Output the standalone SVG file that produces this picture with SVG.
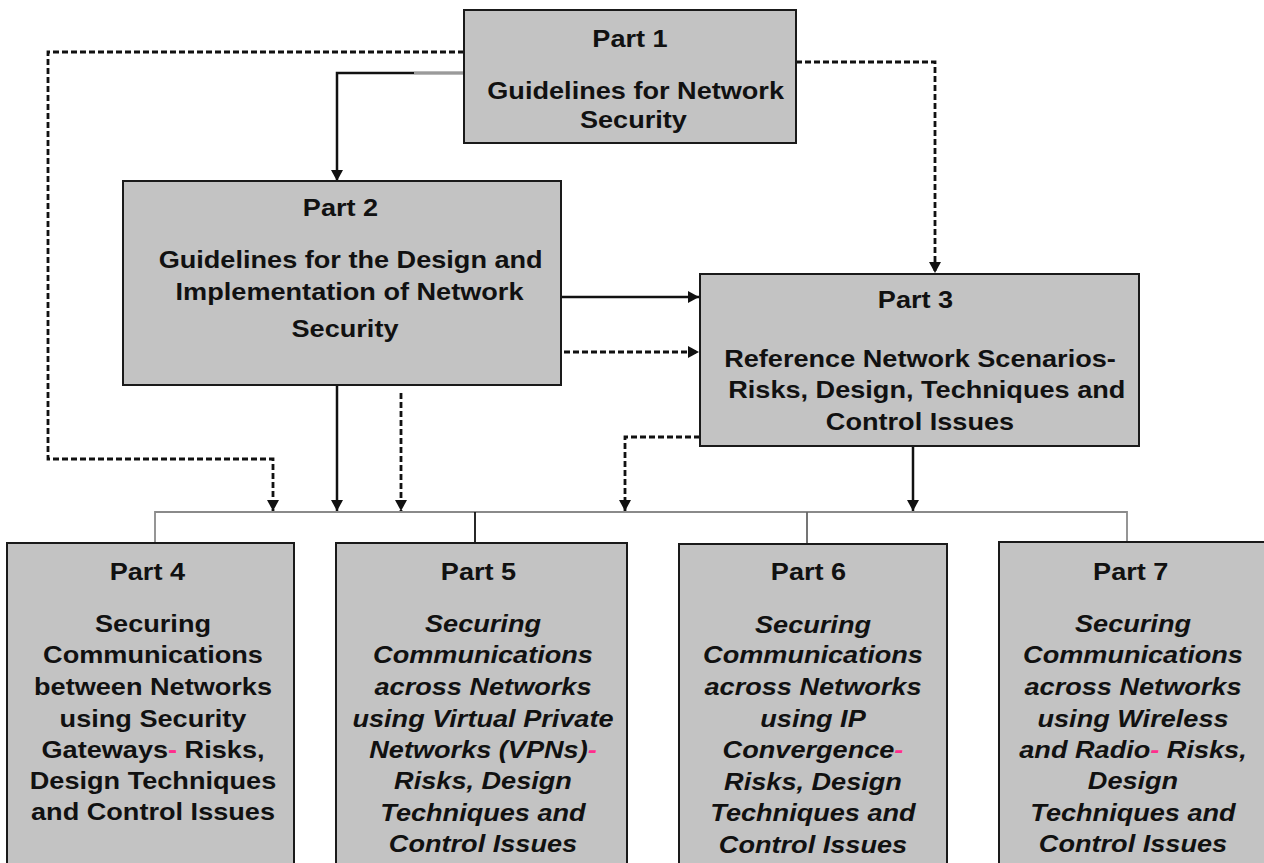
<svg xmlns="http://www.w3.org/2000/svg" width="1264" height="863" viewBox="0 0 1264 863">
<defs>
<style>
.box{fill:#c3c3c3;stroke:#1a1a1a;stroke-width:2}
.t{font-family:"Liberation Sans",Arial,sans-serif;font-weight:bold;font-size:24px;fill:#111;text-anchor:middle}
.i{font-style:italic}
.ln{fill:none;stroke:#111;stroke-width:2.5}
.ds{fill:none;stroke:#111;stroke-width:2.8;stroke-dasharray:6 3}
.bus{fill:none;stroke:#8a8a8a;stroke-width:1.8}
.pk{fill:#ff2e8c}
</style>
<marker id="ah" viewBox="0 0 11 12" refX="11" refY="6" markerWidth="11" markerHeight="12" markerUnits="userSpaceOnUse" orient="auto">
<path d="M0,0 L11,6 L0,12 z" fill="#111"/>
</marker>
</defs>
<rect width="1264" height="863" fill="#fff"/>
<g id="connectors">
<path class="bus" d="M155,543 V512 H1127 V543"/>
<path class="bus" d="M807,512 V544" style="stroke:#666"/>
<path class="ln" d="M475,512 V543" style="stroke-width:1.8"/>
<path class="ln" d="M464,73 H337 V181" marker-end="url(#ah)"/>
<path class="bus" d="M414,73 H464" style="stroke-width:2.5;stroke:#9a9a9a"/>
<path class="ds" d="M796,62 H935 V273" marker-end="url(#ah)"/>
<path class="ds" d="M464,52 H48 V459 H273 V511" marker-end="url(#ah)"/>
<path class="ln" d="M561,297 H699" marker-end="url(#ah)"/>
<path class="ds" d="M564,352 H699" marker-end="url(#ah)"/>
<path class="ln" d="M337,385 V511" marker-end="url(#ah)"/>
<path class="ds" d="M401,393 V511" marker-end="url(#ah)"/>
<path class="ds" d="M700,437 H625 V511" marker-end="url(#ah)"/>
<path class="ln" d="M913,446 V511" marker-end="url(#ah)"/>
</g>
<g id="part1">
<rect class="box" x="464" y="10" width="332" height="133"/>
<text class="t" transform="matrix(1.13,0,0,1,630,0)"><tspan x="0" y="47">Part 1</tspan><tspan x="5" y="99">Guidelines for Network</tspan><tspan x="3" y="128">Security</tspan></text>
</g>
<g id="part2">
<rect class="box" x="123" y="181" width="438" height="204"/>
<text class="t" transform="matrix(1.13,0,0,1,345,0)"><tspan x="-4" y="216">Part 2</tspan><tspan x="5" y="268">Guidelines for the Design and</tspan><tspan x="4" y="300">Implementation of Network</tspan><tspan x="0" y="337">Security</tspan></text>
</g>
<g id="part3">
<rect class="box" x="700" y="274" width="439" height="172"/>
<text class="t" transform="matrix(1.13,0,0,1,920,0)"><tspan x="-4" y="308">Part 3</tspan><tspan x="0" y="367">Reference Network Scenarios-</tspan><tspan x="6" y="398">Risks, Design, Techniques and</tspan><tspan x="0" y="430">Control Issues</tspan></text>
</g>
<g id="part4">
<rect class="box" x="7" y="543" width="287" height="340"/>
<text class="t" transform="matrix(1.13,0,0,1,153,0)"><tspan x="-5" y="580">Part 4</tspan><tspan x="0" y="632">Securing</tspan><tspan x="0" y="663">Communications</tspan><tspan x="0" y="695">between Networks</tspan><tspan x="0" y="727">using Security</tspan><tspan x="0" y="758">Gateways<tspan class="pk">-</tspan> Risks,</tspan><tspan x="0" y="789">Design Techniques</tspan><tspan x="0" y="820">and Control Issues</tspan></text>
</g>
<g id="part5">
<rect class="box" x="336" y="543" width="291" height="340"/>
<text class="t" transform="matrix(1.13,0,0,1,483,0)"><tspan x="-4" y="580">Part 5</tspan><tspan class="i" x="0" y="632">Securing</tspan><tspan class="i" x="0" y="663">Communications</tspan><tspan class="i" x="0" y="695">across Networks</tspan><tspan class="i" x="0" y="727">using Virtual Private</tspan><tspan class="i" x="0" y="758">Networks (VPNs)<tspan class="pk">-</tspan></tspan><tspan class="i" x="0" y="789">Risks, Design</tspan><tspan class="i" x="0" y="821">Techniques and</tspan><tspan class="i" x="0" y="852">Control Issues</tspan></text>
</g>
<g id="part6">
<rect class="box" x="679" y="544" width="268" height="340"/>
<text class="t" transform="matrix(1.13,0,0,1,813,0)"><tspan x="-4" y="580">Part 6</tspan><tspan class="i" x="0" y="633">Securing</tspan><tspan class="i" x="0" y="663">Communications</tspan><tspan class="i" x="0" y="695">across Networks</tspan><tspan class="i" x="0" y="727">using IP</tspan><tspan class="i" x="0" y="758">Convergence<tspan class="pk">-</tspan></tspan><tspan class="i" x="0" y="790">Risks, Design</tspan><tspan class="i" x="0" y="821">Techniques and</tspan><tspan class="i" x="0" y="853">Control Issues</tspan></text>
</g>
<g id="part7">
<rect class="box" x="999" y="542" width="275" height="340"/>
<text class="t" transform="matrix(1.13,0,0,1,1133,0)"><tspan x="-2" y="580">Part 7</tspan><tspan class="i" x="0" y="632">Securing</tspan><tspan class="i" x="0" y="663">Communications</tspan><tspan class="i" x="0" y="695">across Networks</tspan><tspan class="i" x="0" y="727">using Wireless</tspan><tspan class="i" x="0" y="758">and Radio<tspan class="pk">-</tspan> Risks,</tspan><tspan class="i" x="0" y="789">Design</tspan><tspan class="i" x="0" y="821">Techniques and</tspan><tspan class="i" x="0" y="852">Control Issues</tspan></text>
</g>
</svg>
